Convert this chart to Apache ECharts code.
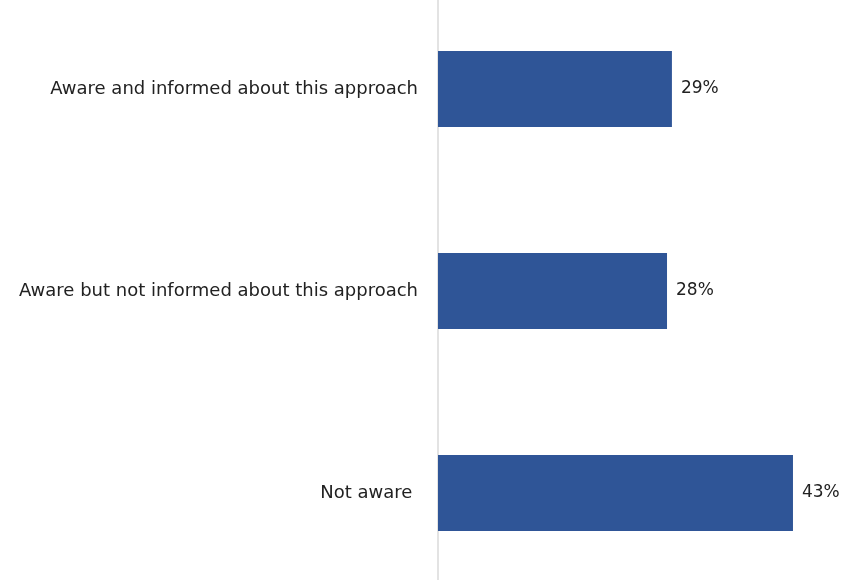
<!DOCTYPE html>
<html>
<head>
<meta charset="utf-8">
<script src="https://cdn.jsdelivr.net/npm/echarts@6/dist/echarts.min.js"></script>
<style>html,body{margin:0;padding:0;background:#fff}#c{width:844px;height:580px}</style>
</head>
<body>
<div id="c"></div>
<script>
const categories = ["Aware and informed about this approach", "Aware but not informed about this approach", "Not aware "];
const values = [28.6, 28.0, 43.4];
const labels = ["29%", "28%", "43%"];

const chart = echarts.init(document.getElementById('c'));
chart.setOption({
  animation: false,
  grid: { left: 438, width: 392.6, top: -12, height: 606, containLabel: false, outerBoundsMode: 'none' },
  xAxis: { type: 'value', min: 0, max: 48, show: false },
  yAxis: {
    type: 'category', data: categories, inverse: true,
    axisLine: { show: true, lineStyle: { color: '#e3e3e3', width: 2 } },
    axisTick: { show: false },
    axisLabel: { margin: 20, fontSize: 18, color: '#222', fontFamily: 'DejaVu Sans' }
  },
  series: [{
    type: 'bar', data: values, barWidth: 76,
    itemStyle: { color: '#2f5597' },
    label: { show: true, position: 'right', distance: 9, fontSize: 17, color: '#222', fontFamily: 'DejaVu Sans',
      formatter: p => labels[p.dataIndex] }
  }]
});
</script>
</body>
</html>
